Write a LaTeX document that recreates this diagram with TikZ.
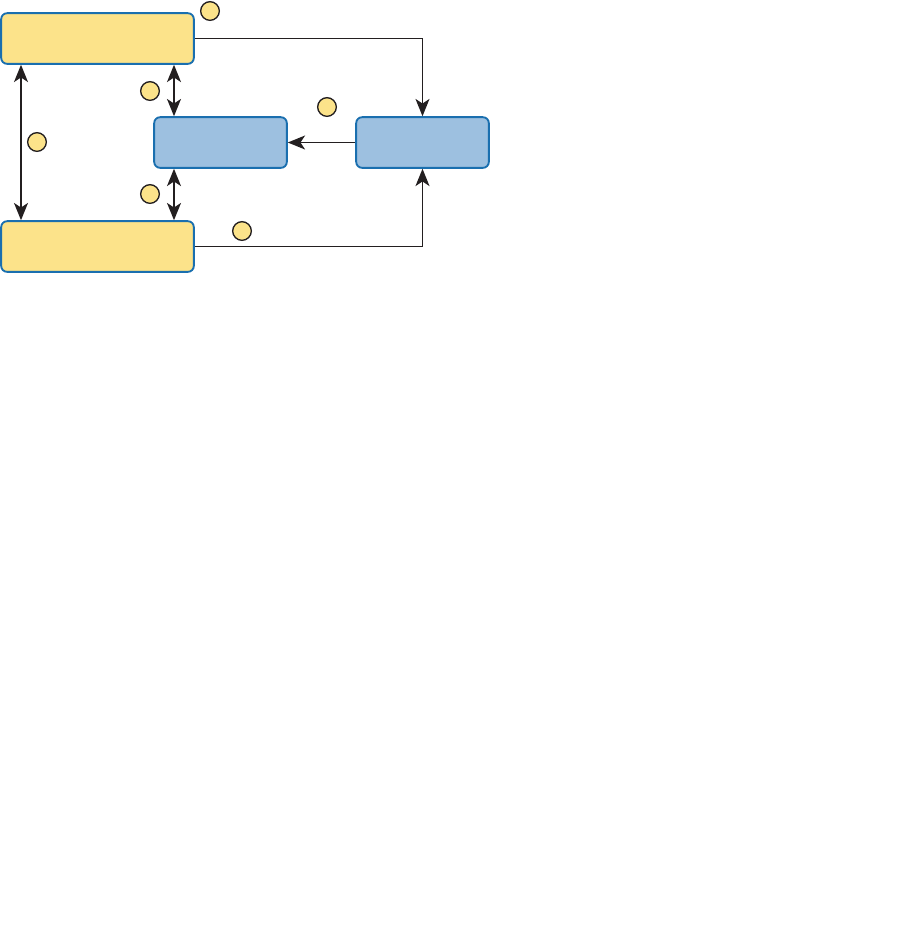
\documentclass[tikz,border=0pt]{standalone}
\usetikzlibrary{arrows.meta}
\definecolor{ybox}{HTML}{FCE38A}
\definecolor{bbox}{HTML}{9DC0E0}
\definecolor{bline}{HTML}{1A6FAF}
\definecolor{aline}{HTML}{231F20}
\begin{document}
\begin{tikzpicture}[x=0.75pt,y=-0.75pt,
  boxbase/.style={draw=bline,line width=1.4pt,rounded corners=4.5pt,inner sep=0pt,minimum height=38pt},
  ylbox/.style={boxbase,fill=ybox,minimum width=144.5pt},
  blbox/.style={boxbase,fill=bbox,minimum width=99.5pt},
  marker/.style={circle,draw=aline,fill=ybox,line width=1pt,minimum size=14pt,inner sep=0pt},
  conn/.style={draw=aline,line width=1.3pt,-{Stealth[length=13pt,width=10.5pt,inset=3.5pt]}},
  dconn/.style={draw=aline,line width=1.3pt,{Stealth[length=13pt,width=10.5pt,inset=3.5pt]}-{Stealth[length=13pt,width=10.5pt,inset=3.5pt]}}]
\useasboundingbox (0,0) rectangle (913,929);
\node[ylbox] (ty) at (97.5,38.5) {};
\node[ylbox] (by) at (97.5,246.5) {};
\node[blbox] (mb) at (220.5,142.5) {};
\node[blbox] (rb) at (422.5,142.5) {};
\coordinate (c0) at (21,0);
\coordinate (c1) at (174,0);
\draw[conn] (ty.east) -| (rb.north);
\draw[conn] (by.east) -| (rb.south);
\draw[conn] (rb.west) -- (mb.east);
\draw[dconn] (ty.south -| c0) -- (by.north -| c0);
\draw[dconn] (ty.south -| c1) -- (mb.north -| c1);
\draw[dconn] (mb.south -| c1) -- (by.north -| c1);
\node[marker] (m1) at (210,11) {};
\node[marker] (m2) at (150,91) {};
\node[marker] (m3) at (37,142) {};
\node[marker] (m4) at (150,194) {};
\node[marker] (m5) at (327,107) {};
\node[marker] (m6) at (242,231) {};
\end{tikzpicture}
\end{document}
